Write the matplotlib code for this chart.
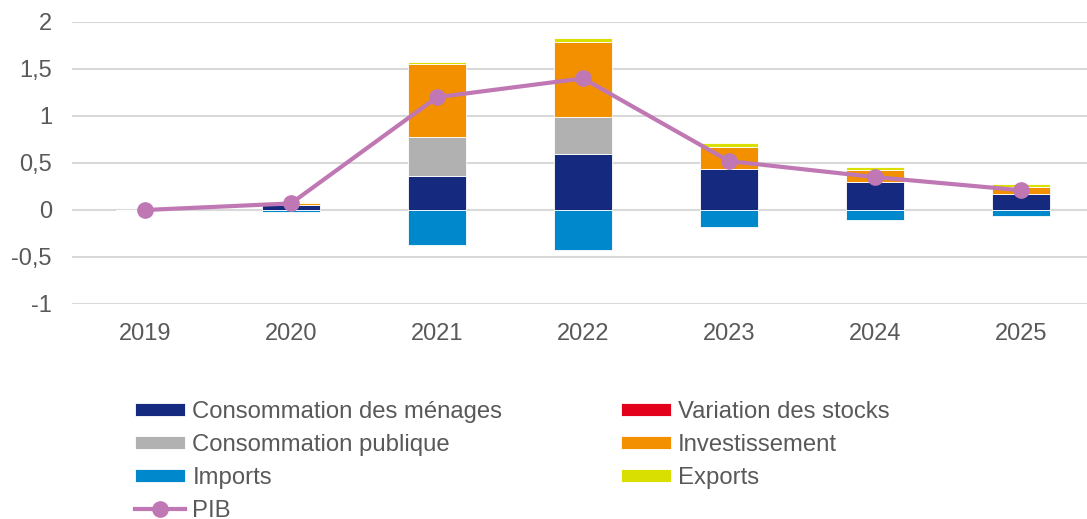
import matplotlib.pyplot as plt
from matplotlib.ticker import FuncFormatter
import numpy as np

plt.rcParams['font.family'] = ['Liberation Sans', 'DejaVu Sans']

# Contributions to GDP growth (points)
years = ['2019', '2020', '2021', '2022', '2023', '2024', '2025']
cons_menages = [0.0, 0.05, 0.36, 0.60, 0.44, 0.30, 0.17]
cons_publique = [0.0, 0.005, 0.42, 0.39, 0.0, 0.0, 0.0]
var_stocks = [0.0, 0.0, 0.0, 0.0, 0.0, 0.0, 0.0]
investissement = [0.0, 0.02, 0.77, 0.80, 0.23, 0.13, 0.075]
exports = [0.0, 0.005, 0.02, 0.04, 0.04, 0.03, 0.03]
imports = [0.0, -0.02, -0.37, -0.43, -0.18, -0.11, -0.06]
pib = [0.0, 0.07, 1.20, 1.40, 0.52, 0.35, 0.21]

series = [
    ('Consommation des ménages', cons_menages, '#152a7e'),
    ('Consommation publique', cons_publique, '#b1b1b1'),
    ('Variation des stocks', var_stocks, '#e2001a'),
    ('Investissement', investissement, '#f39000'),
    ('Imports', imports, '#0088cc'),
    ('Exports', exports, '#d9df00'),
]

text_col = '#595959'
fs = 17

fig = plt.figure(figsize=(10.87, 5.19), dpi=100)
ax = fig.add_axes([72 / 1087, 215 / 519, 1022 / 1087, 282 / 519])

x = np.arange(len(years))
pos_base = np.zeros(len(years))
neg_base = np.zeros(len(years))
handles = {}
for name, vals, col in series:
    v = np.array(vals)
    bottom = np.where(v >= 0, pos_base, neg_base)
    h = ax.bar(x, v, 0.4, bottom=bottom, color=col, edgecolor='white',
               linewidth=0.6, zorder=2, label=name)
    pos_base += np.where(v >= 0, v, 0)
    neg_base += np.where(v < 0, v, 0)
    handles[name] = h

line, = ax.plot(x, pib, color='#c078b4', lw=3, marker='o', ms=11,
                zorder=3, label='PIB')
handles['PIB'] = line

ax.set_xlim(-0.5, len(years) - 0.5)
ax.set_ylim(-1, 2)
ax.set_yticks([-1, -0.5, 0, 0.5, 1, 1.5, 2])
ax.yaxis.set_major_formatter(FuncFormatter(lambda v, p: f'{v:g}'.replace('.', ',')))
ax.set_xticks(x)
ax.set_xticklabels(years)
ax.tick_params(length=0, labelsize=fs, colors=text_col)
ax.tick_params(axis='x', pad=14)
ax.tick_params(axis='y', pad=14.4)
ax.grid(axis='y', color='#d9d9d9', lw=1.5, zorder=0)
ax.set_axisbelow(True)
for s in ax.spines.values():
    s.set_visible(False)

order = ['Consommation des ménages', 'Consommation publique', 'Imports', 'PIB',
         'Variation des stocks', 'Investissement', 'Exports']
leg = fig.legend([handles[k] for k in order], order, ncol=2,
                 loc='upper left', bbox_to_anchor=(135 / 1087, 1 - 401 / 519),
                 frameon=False, fontsize=17.2, borderpad=0, borderaxespad=0,
                 handlelength=2.1, handleheight=0.5, handletextpad=0.3,
                 labelspacing=0.46, columnspacing=4.95)
for t in leg.get_texts():
    t.set_color(text_col)

fig.savefig('out.png', dpi=100)
